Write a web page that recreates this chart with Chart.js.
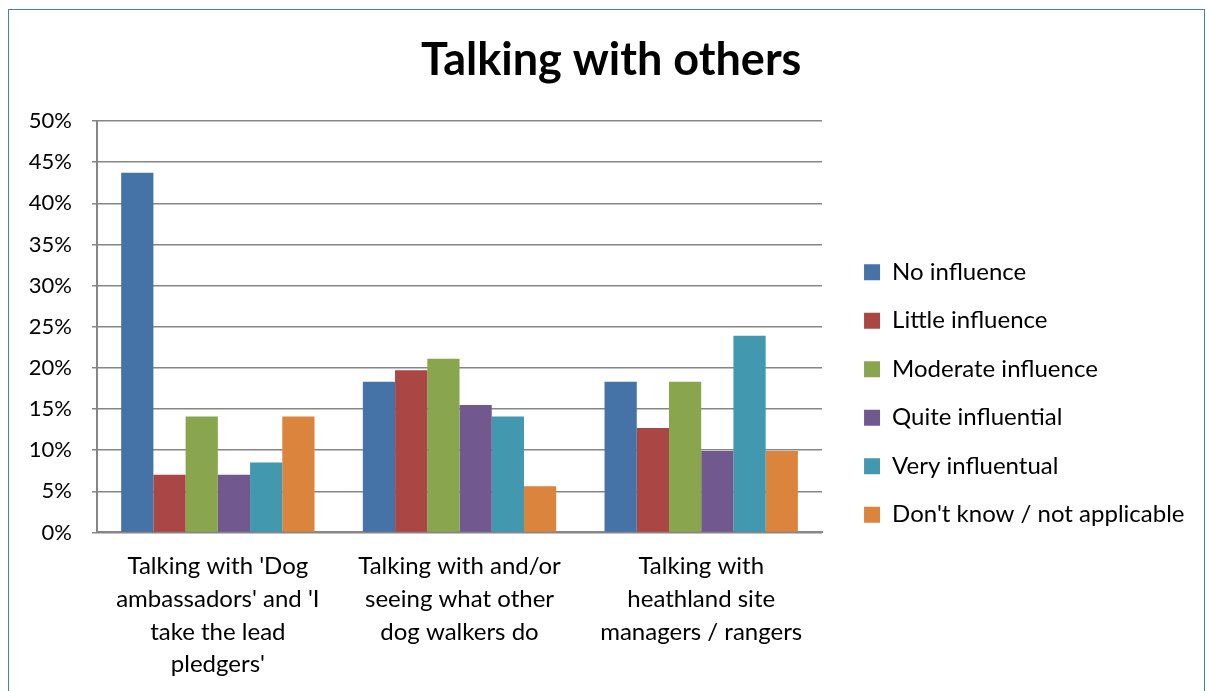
<!DOCTYPE html>
<html>
<head>
<meta charset="utf-8">
<script src="https://cdn.jsdelivr.net/npm/chart.js@4/dist/chart.umd.min.js"></script>
<style>
    html, body { margin: 0; padding: 0; background: #fff; }
    #wrap { position: relative; width: 1207px; height: 691px; }
    #frame { position: absolute; left: 8px; top: 9px; width: 1195px; height: 700px; border: 1px solid #4a7ebb; pointer-events: none; }
</style>
</head>
<body>
<div id="wrap">
    <canvas id="chart" width="1207" height="691"></canvas>
    <div id="frame"></div>
</div>
<script>
const categories = [
    ["Talking with 'Dog", "ambassadors' and 'I", "take the lead", "pledgers'"],
    ["Talking with and/or", "seeing what other", "dog walkers do"],
    ["Talking with", "heathland site", "managers / rangers"]
];
const seriesNames = ["No influence", "Little influence", "Moderate influence", "Quite influential", "Very influentual", "Don't know / not applicable"];
const seriesColors = ["#4572A7", "#AA4643", "#89A54E", "#71588F", "#4198AF", "#DB843D"];

const noInfluence = [43.7, 18.3, 18.3];
const littleInfluence = [7.0, 19.7, 12.7];
const moderateInfluence = [14.1, 21.1, 18.3];
const quiteInfluential = [7.0, 15.5, 9.9];
const veryInfluential = [8.5, 14.1, 23.9];
const dontKnow = [14.1, 5.6, 9.9];

const yTicks = [0, 5, 10, 15, 20, 25, 30, 35, 40, 45, 50];

const seriesValues = [noInfluence, littleInfluence, moderateInfluence, quiteInfluential, veryInfluential, dontKnow];
const fontFamily = "Lato, 'Open Sans', sans-serif";

const ctx = document.getElementById("chart").getContext('2d');
window.chart = new Chart(ctx, {
    type: "bar",
    data: {
        labels: categories,
        datasets: seriesNames.map((name, i) => ({
            label: name,
            data: seriesValues[i],
            backgroundColor: seriesColors[i],
            borderWidth: 0,
            categoryPercentage: 0.8,
            barPercentage: 1.0
        }))
    },
    options: {
        responsive: false,
        animation: false,
        layout: { padding: { left: 28, right: 12.5, top: 0, bottom: -8 } },
        scales: {
            x: {
                grid: { display: false, drawTicks: false },
                border: { display: true, color: '#868686', width: 2 },
                ticks: {
                    color: '#000',
                    padding: 18,
                    maxRotation: 0,
                    font: { family: fontFamily, size: 24, lineHeight: 1.36 }
                }
            },
            y: {
                min: 0,
                max: 50,
                afterBuildTicks: scale => { scale.ticks = yTicks.map(v => ({ value: v })); },
                afterFit: scale => { scale.width = 69; },
                grid: { color: '#868686', lineWidth: 1.5, tickLength: 5 },
                border: { display: true, color: '#868686', width: 2 },
                ticks: {
                    color: '#000',
                    padding: 20,
                    font: { family: fontFamily, size: 22 },
                    callback: v => v + '%'
                }
            },
            gap: {
                type: 'linear',
                position: 'right',
                display: true,
                grid: { display: false, drawTicks: false },
                border: { display: false },
                ticks: { display: false },
                afterFit: scale => { scale.width = 17.5; }
            }
        },
        plugins: {
            title: {
                display: true,
                text: 'Talking with others',
                color: '#000',
                font: { family: fontFamily, size: 45, weight: 'bold' },
                padding: { top: 33, bottom: 34 }
            },
            legend: {
                position: 'right',
                align: 'center',
                maxWidth: 420,
                title: {
                    display: true,
                    text: ' ',
                    font: { size: 10, lineHeight: 1 },
                    padding: { top: 78, bottom: 0 }
                },
                labels: {
                    color: '#000',
                    boxWidth: 16,
                    boxHeight: 16,
                    padding: 24.5,
                    font: { family: fontFamily, size: 24 }
                }
            },
            tooltip: { enabled: false }
        }
    }
});
</script>
</body>
</html>
